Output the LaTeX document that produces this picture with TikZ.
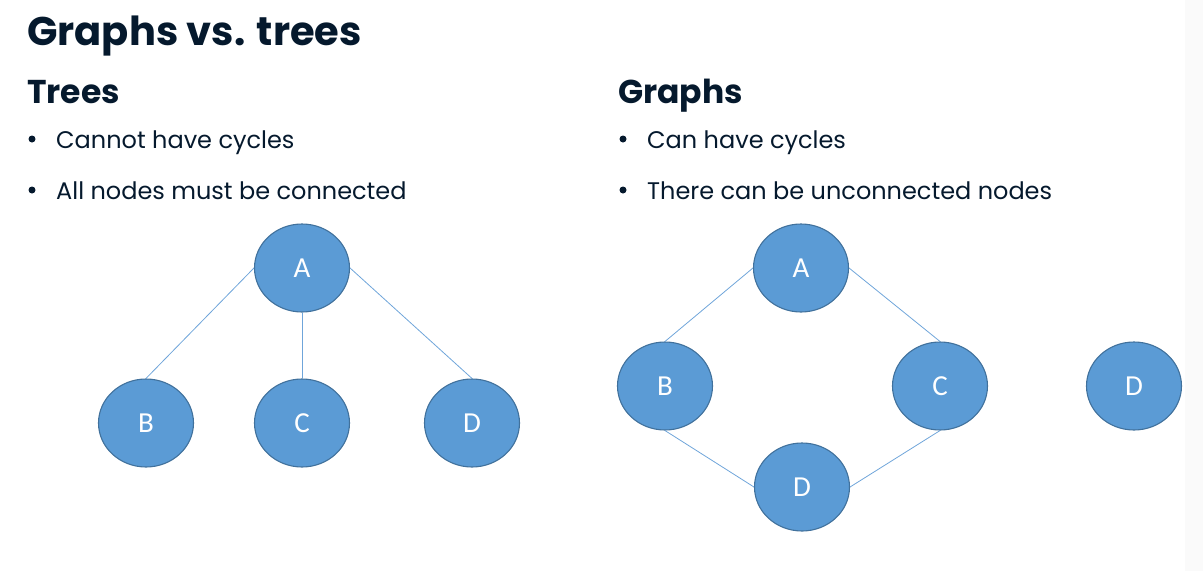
\documentclass[tikz,border=0pt]{standalone}
\usepackage{fontspec}
\setmainfont{Poppins}
\newfontfamily\labelfont{Carlito}
\usetikzlibrary{shapes.geometric}
\definecolor{ink}{HTML}{05192D}
\definecolor{nodefill}{HTML}{5B9BD5}
\definecolor{nodeedge}{HTML}{41719C}
\definecolor{edgeline}{HTML}{6FA5DA}
\begin{document}
\begin{tikzpicture}[x=1pt,y=-1pt,
  vertex/.style={ellipse, draw=nodeedge, fill=nodefill, line width=1.1pt,
    minimum width=95pt, minimum height=88pt, inner sep=0pt,
    text=white, font=\labelfont\fontsize{29}{29}\selectfont},
  link/.style={draw=edgeline, line width=0.8pt},
  heading/.style={anchor=base west, inner sep=0pt, text=ink},
  bigtitle/.style={heading, font=\fontsize{40}{40}\selectfont\bfseries},
  subtitle/.style={heading, font=\fontsize{33}{33}\selectfont\bfseries},
  item/.style={heading, font=\fontsize{24}{24}\selectfont},
  dot/.style={circle, fill=ink, inner sep=0pt, minimum size=7pt}
]
\useasboundingbox (0,0) rectangle (1203,571);

% slide edge
\fill[black!2] (1185,0) rectangle (1203,571);

% headings
\node[bigtitle] (title) at (27,45) {Graphs vs. trees};
\node[subtitle] (treehead) at (27,103) {Trees};
\node[subtitle] (graphhead) at (618,103) {Graphs};

% bullet lists
\node[dot] (tb1) at (32,139) {};
\node[item] (tt1) at (56,148) {Cannot have cycles};
\node[dot] (tb2) at (32,190) {};
\node[item] (tt2) at (56,199) {All nodes must be connected};
\node[dot] (gb1) at (623,139) {};
\node[item] (gt1) at (647,148) {Can have cycles};
\node[dot] (gb2) at (623,190) {};
\node[item] (gt2) at (647,199) {There can be unconnected nodes};

% tree
\node[vertex] (tA) at (302,268) {A};
\node[vertex] (tB) at (146,423) {B};
\node[vertex] (tC) at (302,423) {C};
\node[vertex] (tD) at (472,423) {D};
\draw[link] (tA.west) -- (tB.north);
\draw[link] (tA.south) -- (tC.north);
\draw[link] (tA.east) -- (tD.north);

% graph
\node[vertex] (gA) at (801,268) {A};
\node[vertex] (gB) at (665,386) {B};
\node[vertex] (gC) at (940,386) {C};
\node[vertex] (gD) at (802,487) {D};
\node[vertex] (gE) at (1134,386) {D};
\draw[link] (gA.west) -- (gB.north);
\draw[link] (gA.east) -- (gC.north);
\draw[link] (gB.south) -- (gD.west);
\draw[link] (gD.east) -- (gC.south);
\end{tikzpicture}
\end{document}
